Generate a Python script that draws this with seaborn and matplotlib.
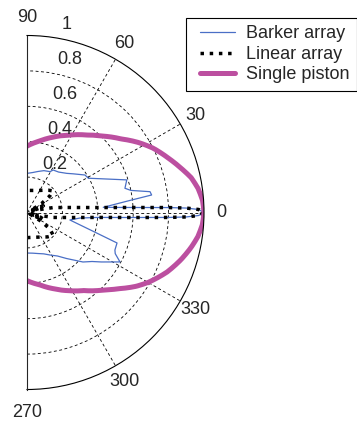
import matplotlib as mpl

mpl.use('Agg')
import matplotlib.pyplot as plt
from matplotlib.lines import Line2D
from matplotlib.legend_handler import HandlerLine2D
import seaborn as sns
import numpy as np

# beam patterns, angle in degrees, normalised amplitude
barker_theta = [-90, -82, -75, -68, -61.6, -55, -49.3, -41.5, -37, -33.6, -28, -25, -23.1,
                -18.7, -15.9, -9.9, -6, -4, -2.7, -2, -1.6, -1, 0, 1, 1.6, 2, 2.7, 3.3,
                3.9, 6.5, 8.0, 9.6, 12, 13.9, 18.1, 22.7, 29.2, 32.9, 40, 44.6, 52, 58.3,
                60.6, 68, 75, 82, 90]
barker_r = [0.229, 0.232, 0.24, 0.252, 0.273, 0.3, 0.343, 0.422, 0.46, 0.505, 0.595, 0.55, 0.54,
            0.537, 0.39, 0.246, 0.3, 0.4, 0.6, 0.8, 0.9, 0.97, 1.0, 0.97, 0.9, 0.8, 0.6, 0.5,
            0.432, 0.572, 0.711, 0.705, 0.6, 0.57, 0.593, 0.49, 0.397, 0.39, 0.34, 0.315, 0.29,
            0.282, 0.265, 0.255, 0.24, 0.228, 0.221]

linear_theta = [-90, -75, -60, -50, -41, -36, -32, -28, -25, -22, -19, -16, -14, -10.7, -6.5,
                -4, -2.7, -2, -1.6, -1, 0, 1, 1.6, 2, 2.7, 4, 6.5, 10.7, 14, 16, 19, 22, 25,
                28, 32, 36, 40, 46, 52, 60, 75, 90]
linear_r = [0.142, 0.145, 0.16, 0.18, 0.197, 0.16, 0.1, 0.02, 0.06, 0.1, 0.08, 0.02, 0.06, 0.15,
            0.25, 0.4, 0.6, 0.8, 0.9, 0.97, 1.0, 0.97, 0.9, 0.8, 0.6, 0.4, 0.25, 0.15, 0.06,
            0.02, 0.08, 0.1, 0.06, 0.02, 0.1, 0.16, 0.19, 0.175, 0.16, 0.144, 0.129, 0.125]

piston_theta = [-90, -80, -71, -62, -54, -46, -40, -34, -30, -23, -17, -12, -8, -4, 0,
                4, 8, 12, 16, 21, 27, 32, 38, 45, 52, 61, 71, 80, 90]
piston_r = [0.385, 0.415, 0.455, 0.5, 0.545, 0.61, 0.67, 0.745, 0.79, 0.86, 0.91, 0.948,
            0.975, 0.993, 1.0, 0.994, 0.976, 0.948, 0.906, 0.856, 0.80, 0.745, 0.675, 0.61,
            0.555, 0.5, 0.45, 0.41, 0.375]

theta_ticks = [-90, -60, -30, 0, 30, 60, 90]
theta_labels = ['270', '300', '330', '0', '30', '60', '90']
r_ticks = [0.2, 0.4, 0.6, 0.8, 1]
r_labels = ['0.2', '0.4', '0.6', '0.8', '1']

sns.set_style('white')
plt.rcParams['font.family'] = ['Liberation Sans', 'DejaVu Sans']
plt.rcParams['font.size'] = 13

fig = plt.figure(figsize=(3.57, 4.21), dpi=100)
# square box, half disc sits in its middle; centre at x=27px, R=177px
ax = fig.add_axes([-61.5 / 357, 31.5 / 421, 354 / 357, 354 / 421], projection='polar')
ax.set_thetamin(-90)
ax.set_thetamax(90)
ax.set_rlim(0, 1)

sns.lineplot(x=np.deg2rad(barker_theta), y=barker_r, ax=ax, sort=False, estimator=None,
             color='#4a6fc6', lw=0.9, label='Barker array')
sns.lineplot(x=np.deg2rad(linear_theta), y=linear_r, ax=ax, sort=False, estimator=None,
             color='k', lw=2.5, linestyle=':', label='Linear array')
sns.lineplot(x=np.deg2rad(piston_theta), y=piston_r, ax=ax, sort=False, estimator=None,
             color='#bc4fa0', lw=3.6, label='Single piston')
# let the smooth piston curve bend between samples in polar space
ax.lines[-1].get_path()._interpolation_steps = 20

ax.set_thetagrids(theta_ticks, labels=[''] * len(theta_ticks))
ax.set_rgrids(r_ticks[:-1], labels=[''] * (len(r_ticks) - 1))
ax.grid(True, color='k', linestyle=(0, (3.5, 3)), linewidth=0.6)
ax.set_axisbelow(True)
ax.tick_params(length=0)
ax.spines['polar'].set_linewidth(0.8)
ax.spines['polar'].set_color('k')
ax.spines['start'].set_visible(False)
ax.spines['end'].set_visible(False)
ax.set_xlabel('')
ax.set_ylabel('')

for t, lab in zip(theta_ticks, theta_labels):
    rr = 1.13 if lab == '270' else 1.1
    ax.text(np.deg2rad(t), rr, lab, ha='center', va='center', clip_on=False)
for r, lab in zip(r_ticks, r_labels):
    ax.annotate(lab, xy=(np.deg2rad(82), r), xytext=(7.5, 9), textcoords='offset points',
                ha='left', va='center', annotation_clip=False)

handles, labels = ax.get_legend_handles_labels()
leg = ax.legend(handles, labels, loc='upper right', bbox_to_anchor=(356.5 / 357, 1 - 18 / 421),
                bbox_transform=fig.transFigure, frameon=True, fancybox=False, framealpha=1,
                edgecolor='k', borderpad=0.4, labelspacing=0.2, handlelength=2.3,
                handletextpad=0.6, borderaxespad=0,
                handler_map={Line2D: HandlerLine2D(xpad=0.35)})
leg.get_frame().set_linewidth(0.8)

fig.savefig('out.png', dpi=100)
